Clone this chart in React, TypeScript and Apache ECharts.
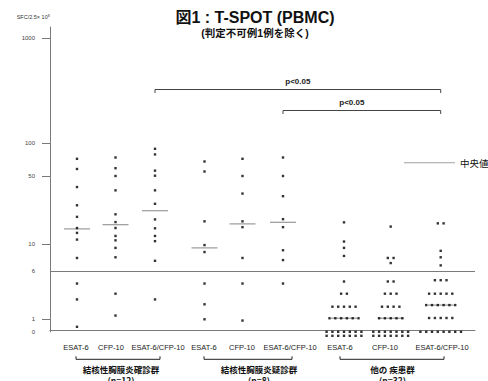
import React, { useEffect, useRef } from "react";
import * as echarts from "echarts";

// ---------------- data ----------------
const antigens = ["ESAT-6", "CFP-10", "ESAT-6/CFP-10"];
const groupNames = ["結核性胸膜炎確診群", "結核性胸膜炎疑診群", "他の 疾患群"];
const groupCounts = ["(n=12)", "(n=8)", "(n=32)"];

const confirmedESAT6 = [72, 58, 38.5, 25, 19, 14.6, 13, 11.1, 7.7, 3.8, 2.1, 0.4];
const confirmedCFP10 = [74, 59, 50, 35.6, 20.2, 16.8, 14.6, 12.1, 10.9, 9.3, 7.8, 2.6, 1.15];
const confirmedBoth = [89, 79, 56, 50.3, 35.6, 25.9, 17.9, 14.5, 12.1, 10.7, 7.3, 2.1];
const suspectedESAT6 = [68, 55, 17.1, 9.8, 8.6, 3.8, 1.75, 1.0];
const suspectedCFP10 = [72, 50, 33, 17.1, 14.9, 7.7, 3.8, 0.9];
const suspectedBoth = [74, 50, 31, 18, 14.9, 8.9, 7.4, 3.8];
const otherESAT6 = [
  16.7, 10.6, 9.3, 8.0, 4.1, 2.6, 2.6, 1.6, 1.6, 1.6, 1.6, 1.6,
  1.04, 1.04, 1.04, 1.04, 1.04, 1.04,
  0, 0, 0, 0, 0, 0, 0, 0, 0, 0, 0, 0, 0, 0,
];
const otherCFP10 = [
  15.1, 7.7, 7.7, 7.0, 4.1, 4.1, 2.6, 2.6, 2.6, 1.6, 1.6, 1.6, 1.6,
  1.04, 1.04, 1.04, 1.04, 1.04,
  0, 0, 0, 0, 0, 0, 0, 0, 0, 0, 0, 0, 0, 0,
];
const otherBoth = [
  16.3, 16.3, 8.8, 7.8, 6.7, 4.3, 4.3, 4.3, 2.6, 2.6, 2.6, 2.6, 2.6,
  1.7, 1.7, 1.7, 1.7, 1.7, 1.7, 1.05, 1.05, 1.05, 1.05, 1.05,
  0, 0, 0, 0, 0, 0, 0, 0,
];
const medians = [14.3, 15.8, 22, 9.3, 16.1, 16.7, 1.04, 1.04, 1.7];

const yTickValues = [1, 10, 50, 100, 1000];
const yLabelValues = [0, 1, 6, 10, 50, 100, 1000];
const cutoff = 6;
const pTests = [
  { from: 2, to: 8, label: "p<0.05" },
  { from: 5, to: 8, label: "p<0.05" },
];
const titleText = "図1 : T-SPOT (PBMC)";
const subtitleText = "(判定不可例1例を除く)";
const yUnit = "SFC/2.5× 10⁵";
const medianLabel = "中央値";

// ---------------- layout ----------------
const FONT = "'Liberation Sans', Arial, 'Noto Sans CJK JP', sans-serif";
const CJK = "'Noto Sans CJK JP', 'Liberation Sans', sans-serif";
const COL_X = [27, 65.5, 105, 154.5, 192.5, 233, 294, 340.7, 390.7];
const LABEL_X = [26, 61, 108, 154, 192, 240, 290, 335, 392];
const GROUP_LABEL_X = [71, 209, 342.5];
const X_MAX = 425;
const Y_MAX = 303.3;
// broken log scale of the original axis: [value, axis position]
const AXIS_KNOTS: [number, number][] = [
  [0, -1.5], [1, 11], [6, 59], [10, 86.3], [50, 154.3], [100, 187], [1000, 292.3],
];
const DOT_GAP = 5.8;
const ROW_GAP = 4;
const MAX_PER_ROW = 8;
const P_LEVELS = [62, 83];
const P_LABEL_SHIFT = [0, -10];
const GROUP_BRACKET_DROP = 27.5;

function T(v: number): number {
  if (v <= 1) {
    const [a0, u0] = AXIS_KNOTS[0];
    const [a1, u1] = AXIS_KNOTS[1];
    return u0 + ((v - a0) / (a1 - a0)) * (u1 - u0);
  }
  for (let i = 1; i < AXIS_KNOTS.length - 1; i++) {
    const [a, ua] = AXIS_KNOTS[i];
    const [b, ub] = AXIS_KNOTS[i + 1];
    if (v <= b || i === AXIS_KNOTS.length - 2) {
      const t = (Math.log10(v) - Math.log10(a)) / (Math.log10(b) - Math.log10(a));
      return ua + t * (ub - ua);
    }
  }
  return 0;
}

const columns = [
  confirmedESAT6, confirmedCFP10, confirmedBoth,
  suspectedESAT6, suspectedCFP10, suspectedBoth,
  otherESAT6, otherCFP10, otherBoth,
];

function dotPoints(): number[][] {
  const pts: number[][] = [];
  columns.forEach((vals, c) => {
    const counts = new Map<number, number>();
    vals.forEach((v) => counts.set(v, (counts.get(v) || 0) + 1));
    counts.forEach((m, v) => {
      const rows = Math.ceil(m / MAX_PER_ROW);
      const per = Math.ceil(m / rows);
      for (let r = 0; r < rows; r++) {
        const n = Math.min(per, m - r * per);
        for (let i = 0; i < n; i++) {
          pts.push([COL_X[c] + (i - (n - 1) / 2) * DOT_GAP, T(v) - r * ROW_GAP]);
        }
      }
    });
  });
  return pts;
}

function nearestIndex(arr: number[], v: number): number {
  let best = 0;
  arr.forEach((a, i) => {
    if (Math.abs(a - v) < Math.abs(arr[best] - v)) best = i;
  });
  return best;
}

export default function App() {
  const ref = useRef<HTMLDivElement>(null);
  useEffect(() => {
    if (!ref.current) return;
    const chart = echarts.init(ref.current, undefined, { renderer: "svg" });
    const yLabelPos = yLabelValues.map(T);
    const option: any = {
      animation: false,
      title: {
        text: titleText,
        subtext: subtitleText,
        left: 255,
        top: 9,
        textAlign: "center",
        padding: 0,
        itemGap: 3,
        textStyle: { fontSize: 16, fontWeight: "bold", color: "#111", fontFamily: FONT },
        subtextStyle: { fontSize: 10.5, fontWeight: "bold", color: "#111", fontFamily: FONT },
      },
      legend: {
        data: [{ name: medianLabel, icon: "rect" }],
        left: 404,
        top: 158,
        padding: 0,
        itemWidth: 51,
        itemHeight: 1,
        selectedMode: false,
        textStyle: { fontSize: 9.5, color: "#111", fontFamily: CJK },
      },
      grid: {
        left: 50,
        right: 13,
        top: 27,
        bottom: 381 - 331.8,
        containLabel: false,
        outerBoundsMode: "none",
      },
      xAxis: [
        {
          type: "value",
          min: 0,
          max: X_MAX,
          axisLine: { show: true, onZero: true, lineStyle: { color: "#7a7a7a" } },
          axisTick: { show: false },
          splitLine: { show: false },
          axisLabel: {
            customValues: LABEL_X,
            formatter: (v: number) => antigens[nearestIndex(LABEL_X, v) % 3],
            fontSize: 7.5,
            color: "#222",
            fontFamily: FONT,
            margin: 12,
          },
        },
        {
          type: "value",
          min: 0,
          max: X_MAX,
          position: "bottom",
          axisLine: { show: false, onZero: false },
          axisTick: { show: false },
          splitLine: { show: false },
          axisLabel: {
            customValues: GROUP_LABEL_X,
            formatter: (v: number) => {
              const i = nearestIndex(GROUP_LABEL_X, v);
              return groupNames[i] + "\n" + groupCounts[i];
            },
            fontSize: 8.5,
            fontWeight: "bold",
            lineHeight: 10.5,
            color: "#111",
            fontFamily: CJK,
            margin: 32,
          },
        },
      ],
      yAxis: {
        type: "value",
        min: T(0),
        max: Y_MAX,
        name: yUnit,
        nameLocation: "end",
        nameGap: 7,
        nameTextStyle: { align: "right", fontSize: 5.5, color: "#333", fontFamily: "'Liberation Sans', 'DejaVu Sans', sans-serif" },
        axisLine: { show: true, lineStyle: { color: "#7a7a7a" } },
        axisTick: {
          show: true,
          customValues: yTickValues.map(T),
          length: 8,
          lineStyle: { color: "#7a7a7a" },
        },
        splitLine: { show: false },
        axisLabel: {
          customValues: yLabelPos,
          formatter: (v: number) => String(yLabelValues[nearestIndex(yLabelPos, v)]),
          fontSize: 6,
          color: "#444",
          fontFamily: FONT,
          margin: 15,
        },
      },
      series: [
        {
          name: medianLabel,
          type: "scatter",
          silent: true,
          clip: false,
          z: 1,
          symbol: "rect",
          symbolSize: [26, 1.3],
          itemStyle: { color: "#8a8a8a" },
          data: COL_X.map((x, i) => [x, T(medians[i])]),
        },
        {
          name: "dots",
          type: "scatter",
          silent: true,
          clip: false,
          z: 3,
          symbol: "rect",
          symbolSize: 2.4,
          itemStyle: { color: "#000" },
          data: dotPoints(),
          markLine: {
            silent: true,
            symbol: "none",
            label: { show: false },
            lineStyle: { color: "#7a7a7a", width: 1, type: "solid" },
            data: [{ yAxis: T(cutoff) }],
          },
        },
        {
          name: "pTests",
          type: "custom",
          silent: true,
          clip: false,
          encode: { x: [0, 1], y: 2 },
          data: pTests.map((p) => [COL_X[p.from], COL_X[p.to], 0]),
          renderItem: (params: any, api: any) => {
            const x1 = api.coord([api.value(0), 0])[0];
            const x2 = api.coord([api.value(1), 0])[0];
            const cs = params.coordSys;
            const y = cs.y + P_LEVELS[params.dataIndex] + 0.5;
            const lx = (x1 + x2) / 2 + P_LABEL_SHIFT[params.dataIndex];
            return {
              type: "group",
              children: [
                {
                  type: "polyline",
                  shape: { points: [[x1, y + 3.5], [x1, y], [x2, y], [x2, y + 3.5]] },
                  style: { stroke: "#444", fill: null, lineWidth: 1 },
                },
                {
                  type: "text",
                  x: lx,
                  y: y - 8,
                  style: {
                    text: pTests[params.dataIndex].label,
                    fontSize: 8,
                    fontWeight: "bold",
                    fontFamily: FONT,
                    fill: "#222",
                    align: "center",
                    verticalAlign: "middle",
                  },
                },
              ],
            };
          },
        },
        {
          name: "groups",
          type: "custom",
          silent: true,
          clip: false,
          encode: { x: [0, 1], y: 2 },
          data: groupNames.map((g, i) => [LABEL_X[3 * i], LABEL_X[3 * i + 2], 0]),
          renderItem: (params: any, api: any) => {
            const x1 = api.coord([api.value(0), 0])[0];
            const x2 = api.coord([api.value(1), 0])[0] + 2;
            const cs = params.coordSys;
            const y = cs.y + cs.height + GROUP_BRACKET_DROP;
            return {
              type: "polyline",
              shape: { points: [[x1, y - 3], [x1, y], [x2, y], [x2, y - 3]] },
              style: { stroke: "#222", fill: null, lineWidth: 1 },
            };
          },
        },
      ],
    };
    chart.setOption(option);
    return () => chart.dispose();
  }, []);
  return (
    <div
      ref={ref}
      style={{ position: "fixed", left: 0, top: 0, width: 488, height: 381, background: "#fff" }}
    />
  );
}
